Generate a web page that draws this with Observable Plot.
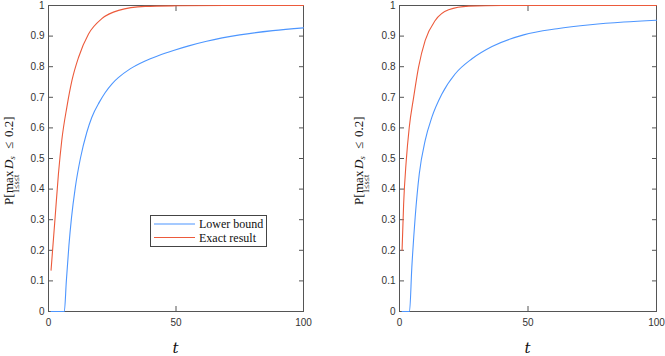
<!DOCTYPE html>
<html><head><meta charset="utf-8">
<script src="https://cdn.jsdelivr.net/npm/d3@7"></script>
<script src="https://cdn.jsdelivr.net/npm/@observablehq/plot@0.6"></script>
<style>
body{margin:0;background:#fff}
#wrap{position:relative;width:665px;height:356px;overflow:hidden}
.panel{position:absolute;top:0}
</style>
</head><body>
<div id="wrap"><div id="p1" class="panel" style="left:0"></div><div id="p2" class="panel" style="left:332px"></div></div>
<script>
const xTicks = [0, 50, 100];
const yTicks = [0, 0.1, 0.2, 0.3, 0.4, 0.5, 0.6, 0.7, 0.8, 0.9, 1];
const seriesNames = ["Lower bound", "Exact result"];
const seriesColors = ["#4d96ff", "#ec5a3b"];

// Left panel
const leftLowerT = [1, 6.2, 7, 8, 9, 10.5, 12.5, 15, 17, 20, 22.2, 25, 27.5, 32, 37.9, 43, 49, 55, 62, 75, 88, 100];
const leftLowerP = [0, 0, 0.1, 0.215, 0.305, 0.405, 0.5, 0.585, 0.635, 0.685, 0.715, 0.745, 0.765, 0.793, 0.819, 0.836, 0.853, 0.868, 0.883, 0.904, 0.918, 0.927];
const leftExactT = [1, 2.6, 3.9, 5.2, 7.2, 9.2, 11.8, 15.7, 20.9, 27.5, 37.9, 50, 70, 100];
const leftExactP = [0.135, 0.308, 0.45, 0.559, 0.668, 0.755, 0.831, 0.907, 0.957, 0.984, 0.997, 0.999, 1, 1];

// Right panel
const rightLowerT = [1, 3.9, 4.8, 6.1, 7.7, 10, 12.6, 16.5, 21.7, 28.2, 36, 48.3, 61.3, 74.3, 87.3, 100];
const rightLowerP = [0, 0, 0.145, 0.308, 0.45, 0.559, 0.635, 0.711, 0.777, 0.826, 0.866, 0.904, 0.924, 0.937, 0.946, 0.952];
const rightExactT = [1, 1.6, 2.6, 3.8, 5.5, 7.4, 10, 13.9, 19.1, 26.9, 40, 60, 100];
const rightExactP = [0.2, 0.35, 0.49, 0.602, 0.70, 0.798, 0.886, 0.951, 0.986, 0.998, 1, 1, 1];

const axisColor = "#555";
const fmtY = d => String(+d.toFixed(1));

function makePanel({lowerT, lowerP, exactT, exactP, width, marginLeft, marginRight, labelBase, legend}) {
  const data = [
    ...lowerT.map((t, i) => ({t, p: lowerP[i], s: seriesNames[0]})),
    ...exactT.map((t, i) => ({t, p: exactP[i], s: seriesNames[1]}))
  ];
  const svg = Plot.plot({
    width, height: 356, marginTop: 5, marginBottom: 45, marginLeft, marginRight,
    style: {fontFamily: "'Liberation Sans', Arial, sans-serif", fontSize: "10px", color: "#333", background: "white", overflow: "visible"},
    x: {domain: [0, 100]},
    y: {domain: [0, 1]},
    color: {domain: seriesNames, range: seriesColors},
    marks: [
      Plot.frame({stroke: axisColor}),
      Plot.axisX({ticks: xTicks, tickSize: -5, tickPadding: 12, label: null, stroke: axisColor, tickFormat: d => String(d)}),
      Plot.axisX({anchor: "top", ticks: xTicks, tickSize: -5, label: null, stroke: axisColor, tickFormat: () => ""}),
      Plot.axisY({ticks: yTicks, tickSize: -5, tickPadding: 9, label: null, stroke: axisColor, tickFormat: fmtY}),
      Plot.axisY({anchor: "right", ticks: yTicks, tickSize: -5, label: null, stroke: axisColor, tickFormat: () => ""}),
      Plot.line(data, {x: "t", y: "p", z: "s", stroke: "s", strokeWidth: 1.1, curve: "monotone-x"})
    ]
  });
  const s = d3.select(svg);
  const cx = marginLeft + (width - marginLeft - marginRight) / 2;
  // x label
  s.append("text").attr("x", cx).attr("y", 353).attr("text-anchor", "middle")
    .attr("font-family", "'DejaVu Serif', serif").attr("font-style", "italic").attr("font-size", 15).attr("fill", "#111").text("t");
  // y label (rotated)
  const g = s.append("g").attr("transform", `translate(${labelBase},158) rotate(-90)`)
    .attr("font-family", "'Liberation Serif', serif").attr("fill", "#111").attr("text-anchor", "start");
  const lab = g.append("text").attr("font-size", 13).attr("text-anchor", "start");
  lab.append("tspan").attr("x", -47).attr("y", 0).text("P[");
  lab.append("tspan").attr("x", -35).attr("y", 0).text("max");
  lab.append("tspan").attr("x", -35).attr("y", 6.5).attr("font-size", 8).text("1≤s≤t");
  lab.append("tspan").attr("x", -11).attr("y", 0).attr("font-style", "italic").text("D");
  lab.append("tspan").attr("x", -1.5).attr("y", 2.5).attr("font-style", "italic").attr("font-size", 8.5).text("s");
  lab.append("tspan").attr("x", 9).attr("y", 0).text("≤");
  lab.append("tspan").attr("x", 21).attr("y", 0).text("0.2]");
  if (legend) {
    const lg = s.append("g").attr("text-anchor", "start");
    lg.append("rect").attr("x", 150.5).attr("y", 215.5).attr("width", 116).attr("height", 31)
      .attr("fill", "white").attr("stroke", "#444");
    seriesNames.forEach((name, i) => {
      const y = 224 + i * 13.5;
      lg.append("line").attr("x1", 154).attr("x2", 195).attr("y1", y).attr("y2", y)
        .attr("stroke", seriesColors[i]).attr("stroke-width", 1.1);
      lg.append("text").attr("x", 199).attr("y", y + 4).attr("font-family", "'Liberation Serif', serif")
        .attr("text-anchor", "start").attr("font-size", 12).attr("fill", "#111").text(name);
    });
  }
  return svg;
}

document.getElementById("p1").appendChild(makePanel({
  lowerT: leftLowerT, lowerP: leftLowerP, exactT: leftExactT, exactP: leftExactP,
  width: 332, marginLeft: 48, marginRight: 29, labelBase: 12.5, legend: true
}));
document.getElementById("p2").appendChild(makePanel({
  lowerT: rightLowerT, lowerP: rightLowerP, exactT: rightExactT, exactP: rightExactP,
  width: 333, marginLeft: 67, marginRight: 9, labelBase: 30.5, legend: false
}));
</script>
</body></html>
